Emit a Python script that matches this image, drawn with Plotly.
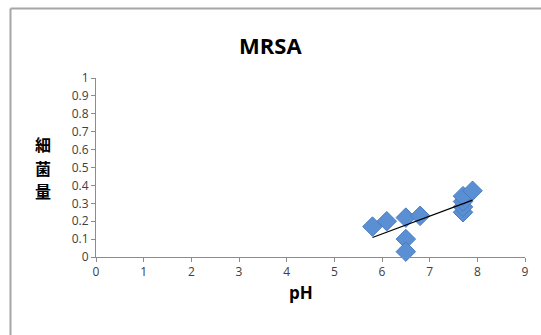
import numpy as np
import plotly.graph_objects as go

ph = [5.8, 6.1, 6.5, 6.5, 6.5, 6.8, 7.7, 7.7, 7.7, 7.7, 7.9]
bacteria = [0.17, 0.20, 0.22, 0.10, 0.03, 0.23, 0.25, 0.28, 0.31, 0.34, 0.37]
x_ticks = [0, 1, 2, 3, 4, 5, 6, 7, 8, 9]
y_ticks = [0, 0.1, 0.2, 0.3, 0.4, 0.5, 0.6, 0.7, 0.8, 0.9, 1]
title_text = "MRSA"
x_title = "pH"
y_title_chars = ["細", "菌", "量"]

slope, intercept = np.polyfit(ph, bacteria, 1)
fit_x = [min(ph), max(ph)]
fit_y = [slope * v + intercept for v in fit_x]

W, H = 541, 335
L, R, T, B = 96, 16, 78, 78
pw, ph_ = W - L - R, H - T - B

def px(x):
    return (x - L) / pw

def py(y):
    return (H - B - y) / ph_

fig = go.Figure()
fig.add_trace(go.Scatter(
    x=ph, y=bacteria, mode="markers",
    marker=dict(symbol="diamond", size=15, color="#5B8FD3",
                line=dict(color="#4A7CC0", width=1)),
    showlegend=False, cliponaxis=False))
fig.add_trace(go.Scatter(
    x=fit_x, y=fit_y, mode="lines",
    line=dict(color="black", width=1.2), showlegend=False))

font = "Open Sans, Lato, DejaVu Sans, sans-serif"
fig.update_layout(
    width=W, height=H, margin=dict(l=L, r=R, t=T, b=B),
    paper_bgcolor="white", plot_bgcolor="white",
    font=dict(family=font, color="#404040", size=12),
    xaxis=dict(range=[0, 9], tickvals=x_ticks, showgrid=False, zeroline=False,
               showline=True, linecolor="#8c8c8c", linewidth=1,
               ticks="outside", ticklen=4, tickcolor="#8c8c8c",
               tickfont=dict(size=12, color="#404040")),
    yaxis=dict(range=[0, 1], tickvals=y_ticks, ticktext=[f"{v:g}" for v in y_ticks],
               showgrid=False, zeroline=False,
               showline=True, linecolor="#8c8c8c", linewidth=1,
               ticks="outside", ticklen=4, tickcolor="#8c8c8c",
               tickfont=dict(size=12, color="#404040")),
)

fig.add_annotation(text=f"<b>{title_text}</b>", xref="paper", yref="paper",
                   x=px(270), y=py(45), showarrow=False,
                   font=dict(size=22, color="black", family=font),
                   xanchor="center", yanchor="middle")
fig.add_annotation(text=f"<b>{x_title}</b>", xref="paper", yref="paper",
                   x=px(301), y=py(292), showarrow=False,
                   font=dict(size=17, color="black", family=font),
                   xanchor="center", yanchor="middle")
for i, ch in enumerate(y_title_chars):
    fig.add_annotation(text=f"<b>{ch}</b>", xref="paper", yref="paper",
                       x=px(43), y=py(144 + 23.6 * i), showarrow=False,
                       font=dict(size=16, color="black", family="Noto Sans CJK JP"),
                       xanchor="center", yanchor="middle")

fig.add_shape(type="line", xref="paper", yref="paper",
              x0=px(10.5), x1=px(541), y0=py(8.5), y1=py(8.5),
              line=dict(color="#a6a6a6", width=2))
fig.add_shape(type="line", xref="paper", yref="paper",
              x0=px(10.5), x1=px(10.5), y0=py(8.5), y1=py(335),
              line=dict(color="#a6a6a6", width=2))

fig.write_html("out.html")
